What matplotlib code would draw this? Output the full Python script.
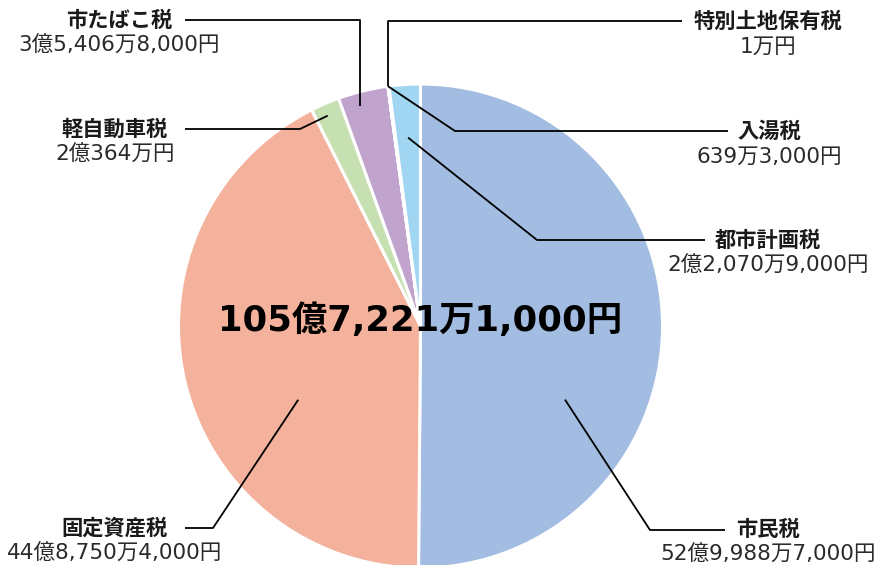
import numpy as np
import matplotlib
matplotlib.use("Agg")
import matplotlib.pyplot as plt

plt.rcParams['font.family'] = ['Noto Sans CJK JP', 'DejaVu Sans']

# ---- data (units: 万円) ----
categories = ["市民税", "固定資産税", "軽自動車税", "市たばこ税", "特別土地保有税", "入湯税", "都市計画税"]
values_man = [529988.7, 448750.4, 20364.0, 35406.8, 1.0, 639.3, 22070.9]
value_labels = ["52億9,988万7,000円", "44億8,750万4,000円", "2億364万円", "3億5,406万8,000円",
                "1万円", "639万3,000円", "2億2,070万9,000円"]
total_label = "105億7,221万1,000円"
colors = ["#A3BCE2", "#F4B19B", "#C6E0B2", "#C1A4CE", "#D9D9D9", "#F6D08A", "#A1D6F2"]

W, H = 877, 565
fig = plt.figure(figsize=(W / 100, H / 100), dpi=100)
ax = fig.add_axes([0, 0, 1, 1])

def Y(py):
    return H - py

cx, cy, R = 420.5, Y(326), 242
wedges, _ = ax.pie(values_man, colors=colors, startangle=90, counterclock=False,
                   center=(cx, cy), radius=R, frame=True,
                   wedgeprops=dict(edgecolor='white', linewidth=2.2))
ax.set_xlim(0, W)
ax.set_ylim(0, H)
ax.set_aspect('equal')
ax.axis('off')

value_font = ['DejaVu Sans', 'Noto Sans CJK JP']

# layout: text center x, title y (pixel), anchor angle, anchor radius fraction, elbow path
layout = {
    "市民税":       dict(tx=768, ty=529, ang=('abs', 117), rf=0.67, elbow=[(650, 530), (725, 530)]),
    "固定資産税":   dict(tx=115, ty=528, ang=('abs', 238.9), rf=0.59, elbow=[(213, 528), (185, 528)]),
    "軽自動車税":   dict(tx=115, ty=129, ang=('abs', 336.2), rf=0.95, elbow=[(300, 129), (185, 129)]),
    "市たばこ税":   dict(tx=119, ty=20, ang=('abs', 344.6), rf=0.945, elbow=[(360, 20), (185, 20)]),
    "特別土地保有税": dict(tx=768, ty=21, ang=('end', 0), rf=1.0, elbow=[(386, 21), (682, 21)]),
    "入湯税":       dict(tx=769, ty=131, ang=('end', 0), rf=1.0, elbow=[(455, 131), (728, 131)]),
    "都市計画税":   dict(tx=768, ty=240, ang=('mid', 0), rf=0.78, elbow=[(537, 240), (705, 240)]),
}

for w, cat, vl in zip(wedges, categories, value_labels):
    L = layout[cat]
    mode, a = L['ang']
    if mode == 'mid':
        th = (w.theta1 + w.theta2) / 2 + a
    elif mode == 'end':
        th = max(w.theta1, w.theta2)
    else:
        th = 90 - a  # clockwise from top
    ax_x = cx + R * L['rf'] * np.cos(np.radians(th))
    ax_y = cy + R * L['rf'] * np.sin(np.radians(th))
    xs = [ax_x] + [p[0] for p in L['elbow']]
    ys = [ax_y] + [Y(p[1]) for p in L['elbow']]
    if cat in ("特別土地保有税", "市たばこ税"):
        xs = [ax_x, ax_x, L['elbow'][1][0]]
        ys = [ax_y, Y(L['elbow'][0][1]), Y(L['elbow'][1][1])]
    ax.plot(xs, ys, color='black', lw=1.3, solid_capstyle='butt', zorder=5)
    ax.text(L['tx'], Y(L['ty']), cat, ha='center', va='center', fontsize=15.3,
            fontweight='bold', color='#1a1a1a', zorder=6)
    ax.text(L['tx'], Y(L['ty'] + 26), vl, ha='center', va='center', fontsize=15.5,
            family=value_font, color='#2a2a2a', zorder=6)

ax.text(cx, Y(321), total_label, ha='center', va='center', fontsize=25.5,
        fontweight='bold', family=value_font, color='black', zorder=7)

fig.savefig("out.png", dpi=100)
